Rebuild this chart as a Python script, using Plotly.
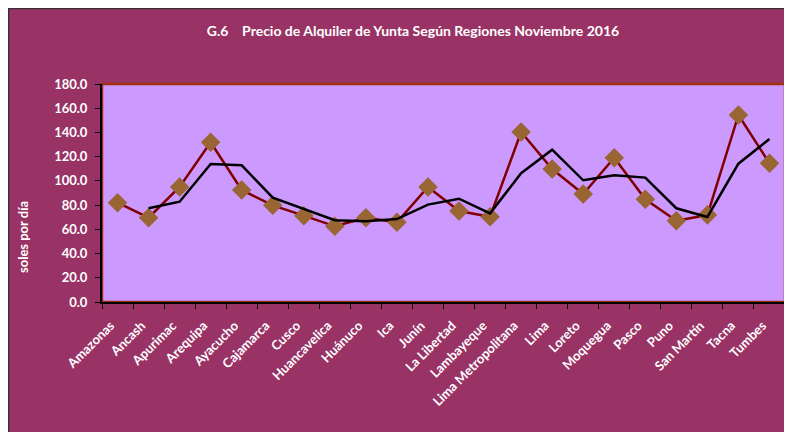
import plotly.graph_objects as go

regions = ["Amazonas", "Ancash", "Apurimac", "Arequipa", "Ayacucho", "Cajamarca", "Cusco",
           "Huancavelica", "Huánuco", "Ica", "Junín", "La Libertad", "Lambayeque",
           "Lima Metropolitana", "Lima", "Loreto", "Moquegua", "Pasco", "Puno",
           "San Martín", "Tacna", "Tumbes"]
price = [82.0, 69.6, 95.0, 131.9, 92.5, 79.8, 71.3, 62.5, 69.6, 65.8, 95.0, 75.1, 70.4,
         140.4, 109.8, 89.2, 119.2, 84.8, 67.1, 71.8, 154.4, 114.5]
trend_regions = regions[1:]
trend = [77.4, 82.8, 114.0, 112.9, 86.1, 77.1, 67.5, 66.6, 68.5, 80.4, 85.3, 73.2,
         106.3, 125.8, 100.5, 104.6, 102.7, 77.4, 70.2, 114.2, 134.6]
y_ticks = [0, 20, 40, 60, 80, 100, 120, 140, 160, 180]

MAROON = "#993366"
FONT = "Lato"

fig = go.Figure()
fig.add_trace(go.Scatter(x=regions, y=price, mode="lines+markers",
                         line=dict(color="#800000", width=2.5),
                         marker=dict(symbol="diamond", size=15, color="#996633"),
                         showlegend=False))
fig.add_trace(go.Scatter(x=trend_regions, y=trend, mode="lines",
                         line=dict(color="#000000", width=2.5),
                         showlegend=False))

OFF = 8  # page body margin
W, H = 792 - OFF, 432 - OFF
L, R, T, B = 102 - OFF, 7, 84 - OFF, H - (302 - OFF)
pw, ph = W - L - R, H - T - B


def px(x):
    return (x - OFF - L) / pw


def py(y):
    return (H - B - (y - OFF)) / ph


shapes = [
    dict(type="line", xref="paper", yref="paper", x0=px(8.5), x1=px(8.5), y0=py(440), y1=py(8),
         line=dict(color="#333333", width=1.5), layer="below"),
    dict(type="line", xref="paper", yref="paper", x0=px(8), x1=px(800), y0=py(8.5), y1=py(8.5),
         line=dict(color="#333333", width=1.5), layer="below"),
    dict(type="rect", xref="paper", yref="paper", x0=0, x1=1, y0=0, y1=1,
         fillcolor="rgba(0,0,0,0)", line=dict(color="#A0300E", width=2.5), layer="below"),
]

fig.update_layout(
    width=W, height=H,
    margin=dict(l=L, r=R, t=T, b=B, autoexpand=False),
    paper_bgcolor=MAROON,
    plot_bgcolor="#CC99FF",
    font=dict(family=FONT, color="white", size=12),
    title=dict(text="<b>G.6    Precio de Alquiler de Yunta Según Regiones Noviembre 2016</b>",
               x=(413 - OFF) / W, xanchor="center", y=1 - (31 - OFF) / H, yanchor="middle",
               font=dict(family=FONT, size=14, color="white")),
    shapes=shapes,
    xaxis=dict(type="category", tickangle=-45, tickson="boundaries",
               ticks="outside", ticklen=5, tickcolor="black",
               showline=True, linecolor="black", linewidth=2,
               showgrid=False, range=[-0.5, 21.5], automargin=False,
               ticklabelstandoff=9, ticklabelshift=-7,
               tickfont=dict(family=FONT, size=13, color="white", weight="bold")),
    yaxis=dict(range=[0, 180], tickvals=y_ticks, tickformat=".1f",
               ticks="outside", ticklen=5, tickcolor="black",
               showline=True, linecolor="black", linewidth=2,
               showgrid=False, zeroline=False, automargin=False,
               ticklabelstandoff=5,
               tickfont=dict(family=FONT, size=13, color="white", weight="bold")),
    annotations=[dict(text="<b>soles por día</b>", xref="paper", yref="paper",
                      x=px(23), y=py(237), xanchor="center", yanchor="middle",
                      textangle=-90, showarrow=False,
                      font=dict(family=FONT, size=13, color="white"))],
)

fig.write_html("out.html")
